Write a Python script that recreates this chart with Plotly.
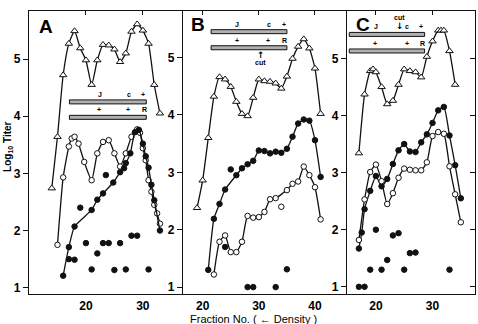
import plotly.graph_objects as go

# ---------------- data ----------------
# Panel A
A_tri_x = [14, 15, 16, 17, 18, 19, 20, 21, 22, 23, 24, 25, 26, 27, 28, 29, 30, 31, 32, 33]
A_tri_y = [2.74, 3.64, 4.72, 5.27, 5.49, 5.19, 4.98, 4.55, 4.98, 5.25, 5.24, 5.17, 4.95, 5.1, 5.48, 5.61, 5.5, 5.27, 4.55, 4.05]
A_open_x = [15, 16, 17, 17.5, 18, 18.7, 19.7, 21, 22, 23, 24, 25, 26, 27, 28, 29, 29.5, 30, 30.5, 31, 31.5, 32, 32.5, 33]
A_open_y = [1.75, 2.93, 3.47, 3.61, 3.64, 3.52, 3.2, 2.88, 3.35, 3.55, 3.58, 3.35, 3.12, 3.35, 3.64, 3.77, 3.71, 3.44, 3.23, 2.88, 2.68, 2.45, 2.3, 2.12]
A_fill_x = [16, 17, 18, 21, 22, 23, 24.8, 26, 27, 27.8, 28.6, 29.3, 30, 30.5, 31, 31.5, 32, 33]
A_fill_y = [1.21, 1.71, 2.07, 2.36, 2.54, 2.65, 2.84, 3.02, 3.18, 3.35, 3.72, 3.76, 3.52, 3.3, 3.1, 2.8, 2.53, 2.0]
A_fill_off_x = [19, 23.5, 26.7]
A_fill_off_y = [2.4, 2.97, 3.09]
A_dot_x = [17, 18, 20, 21, 22, 23, 24, 25, 26, 27, 28, 29, 31]
A_dot_y = [1.5, 1.49, 1.78, 1.32, 1.6, 1.78, 1.78, 1.31, 1.78, 1.32, 1.91, 1.91, 1.32]

# Panel B
B_tri_x = [19, 20, 21, 22, 23, 24, 25, 26, 27, 28, 29, 30, 31, 32, 33, 34, 35, 36, 37, 38, 39, 40, 41]
B_tri_y = [2.38, 2.86, 3.6, 4.32, 4.66, 4.62, 4.49, 4.23, 4.02, 3.98, 4.3, 4.62, 4.59, 4.58, 4.55, 4.46, 4.67, 4.98, 5.19, 5.32, 5.16, 4.81, 4.02]
B_fill_x = [21, 22, 23, 24, 26, 27, 28, 29, 30, 31, 32, 33, 34, 35, 36, 37, 38, 39, 40, 41]
B_fill_y = [1.3, 2.19, 2.45, 2.7, 2.95, 3.07, 3.14, 3.2, 3.38, 3.37, 3.33, 3.36, 3.34, 3.41, 3.62, 3.85, 3.92, 3.9, 3.56, 2.92]
B_fill_off_x = [25]
B_fill_off_y = [3.05]
B_open_x = [22, 23, 24, 25, 26, 27, 28, 29, 30, 31, 32, 33, 35, 36, 37, 38, 39, 40, 41]
B_open_y = [1.22, 1.79, 1.9, 1.61, 1.61, 1.79, 2.24, 2.21, 2.22, 2.31, 2.53, 2.55, 2.69, 2.8, 2.84, 3.1, 2.95, 2.74, 2.18]
B_open_off_x = [34]
B_open_off_y = [2.4]
B_dot_x = [24, 28, 29, 33, 35]
B_dot_y = [1.7, 1.0, 1.0, 1.0, 1.31]

# Panel C
C_tri_x = [17, 18, 19, 19.5, 20, 21, 22, 23, 24, 25, 26, 27, 28, 29, 30, 31, 31.5, 32, 33, 34]
C_tri_y = [3.34, 4.37, 4.78, 4.81, 4.76, 4.5, 4.2, 4.26, 4.54, 4.81, 4.78, 4.76, 4.67, 5.03, 5.3, 5.49, 5.49, 5.49, 5.13, 4.54]
C_fill_x = [17, 17.5, 18, 19, 20, 21, 22, 23, 24, 25, 26, 27, 28, 29, 30, 31, 32, 33, 34, 35]
C_fill_y = [1.67, 1.95, 2.36, 2.68, 2.94, 2.76, 2.89, 3.15, 3.39, 3.5, 3.37, 3.36, 3.53, 3.67, 3.87, 4.09, 4.15, 3.65, 3.13, 2.55]
C_open_x = [17, 18, 19, 20, 21, 22, 23, 24, 25, 26, 27, 28, 29, 30, 31, 32, 33, 34, 35]
C_open_y = [1.82, 2.53, 3.01, 3.14, 2.85, 2.45, 2.64, 2.91, 3.07, 3.05, 3.04, 3.04, 3.18, 3.64, 3.71, 3.68, 3.11, 2.62, 2.13]
C_dot_x = [17, 18, 19, 20, 21, 22, 23, 24, 25, 26, 27, 33]
C_dot_y = [1.0, 1.0, 1.3, 2.0, 1.3, 1.47, 1.9, 1.94, 1.3, 1.59, 1.6, 1.3]

x_ticks = {"A": [20, 30], "B": [20, 30, 40], "C": [20, 30]}
y_ticks = [1, 2, 3, 4, 5]

# genome-map bars: (panel, x0, x1, y, labels[(x, text)])
map_bars = [
    ("A", 17.1, 30.6, 4.25, [(22.5, "J"), (27.6, "c"), (30.05, "+")]),
    ("A", 17.1, 30.6, 3.98, [(22.3, "+"), (27.4, "+"), (30.2, "R")]),
    ("B", 21.5, 35.0, 5.45, [(26.2, "J"), (31.9, "c"), (34.5, "+")]),
    ("B", 21.5, 35.0, 5.17, [(26.1, "+"), (31.6, "+"), (34.6, "R")]),
    ("C", 15.3, 28.6, 5.42, [(19.95, "J"), (25.5, "c"), (28.05, "+")]),
    ("C", 15.3, 28.6, 5.13, [(19.8, "+"), (25.5, "+"), (28.2, "R")]),
]

axmap = {"A": ("x", "y"), "B": ("x2", "y2"), "C": ("x3", "y3")}

fig = go.Figure()
LC = "#111111"


def line_trace(xs, ys, ax, symbol, fill, size=5.5):
    xa, ya = axmap[ax]
    fig.add_trace(go.Scatter(
        x=xs, y=ys, xaxis=xa, yaxis=ya, mode="lines+markers",
        line=dict(color=LC, width=1.3, shape="spline", smoothing=0.5),
        marker=dict(symbol=symbol, size=size, color=fill, line=dict(color=LC, width=1)),
        showlegend=False, hoverinfo="skip"))


def dots(xs, ys, ax, symbol, fill, size=5.5):
    xa, ya = axmap[ax]
    fig.add_trace(go.Scatter(
        x=xs, y=ys, xaxis=xa, yaxis=ya, mode="markers",
        marker=dict(symbol=symbol, size=size, color=fill, line=dict(color=LC, width=1)),
        showlegend=False, hoverinfo="skip"))


line_trace(A_tri_x, A_tri_y, "A", "triangle-up", "white", 6.5)
line_trace(A_open_x, A_open_y, "A", "circle", "white")
line_trace(A_fill_x, A_fill_y, "A", "circle", LC)
dots(A_fill_off_x, A_fill_off_y, "A", "circle", LC)
dots(A_dot_x, A_dot_y, "A", "circle", LC)

line_trace(B_tri_x, B_tri_y, "B", "triangle-up", "white", 6.5)
line_trace(B_fill_x, B_fill_y, "B", "circle", LC)
dots(B_fill_off_x, B_fill_off_y, "B", "circle", LC)
line_trace(B_open_x, B_open_y, "B", "circle", "white")
dots(B_open_off_x, B_open_off_y, "B", "circle", "white")
dots(B_dot_x, B_dot_y, "B", "circle", LC)

line_trace(C_tri_x, C_tri_y, "C", "triangle-up", "white", 6.5)
line_trace(C_fill_x, C_fill_y, "C", "circle", LC)
line_trace(C_open_x, C_open_y, "C", "circle", "white")
dots(C_dot_x, C_dot_y, "C", "circle", LC)

shapes = []
annos = []
small = dict(size=7, color="black", family="Liberation Sans")
for panel, x0, x1, yb, labels in map_bars:
    xa, ya = axmap[panel]
    shapes.append(dict(type="rect", xref=xa, yref=ya, x0=x0, x1=x1, y0=yb - 0.035, y1=yb + 0.035,
                       line=dict(color=LC, width=1), fillcolor="#b0b0b0", layer="above"))
    for lx, t in labels:
        annos.append(dict(x=lx, y=yb + 0.035, xref=xa, yref=ya, text="<b>" + t + "</b>", showarrow=False,
                          xanchor="center", yanchor="bottom", font=small))

# cut markers
annos.append(dict(x=30.3, y=5.05, xref="x2", yref="y2", text="<b>↑</b>", showarrow=False,
                  xanchor="center", yanchor="middle",
                  font=dict(size=9, color="black", family="DejaVu Sans")))
annos.append(dict(x=30.3, y=4.92, xref="x2", yref="y2", text="<b>cut</b>", showarrow=False,
                  xanchor="center", yanchor="middle", font=small))
annos.append(dict(x=24.2, y=5.72, xref="x3", yref="y3", text="<b>cut</b>", showarrow=False,
                  xanchor="center", yanchor="middle", font=small))
annos.append(dict(x=24.2, y=5.57, xref="x3", yref="y3", text="<b>↓</b>", showarrow=False,
                  xanchor="center", yanchor="middle",
                  font=dict(size=9, color="black", family="DejaVu Sans")))

# panel letters (centres)
for t, px, py in [("A", 0.039, 0.945), ("B", 0.379, 0.951), ("C", 0.749, 0.952)]:
    annos.append(dict(x=px, y=py, xref="paper", yref="paper", text="<b>" + t + "</b>",
                      xanchor="center", yanchor="middle",
                      showarrow=False, font=dict(size=19, color="black", family="Liberation Sans")))

annos.append(dict(x=-0.047, y=0.52, xref="paper", yref="paper", text="<b>Log<sub>10</sub> Titer</b>",
                  xanchor="center", yanchor="middle",
                  textangle=-90, showarrow=False, font=dict(size=10, color="black", family="Liberation Sans")))
annos.append(dict(x=0.503, y=-0.09, xref="paper", yref="paper", text="Fraction No. ( ← Density )",
                  xanchor="center", yanchor="middle",
                  showarrow=False, font=dict(size=11, color="black", family="Liberation Sans")))

tickfont = dict(size=12, color="black", family="Liberation Sans", weight="bold")
common_x = dict(showline=True, linecolor=LC, linewidth=1.3, ticks="", ticklen=0,
                tickcolor=LC, showgrid=False, zeroline=False, tickfont=tickfont, automargin=False)
common_y = dict(showline=True, linecolor=LC, linewidth=1.3, ticks="outside", ticklen=5,
                tickcolor=LC, showgrid=False, zeroline=False, tickfont=tickfont,
                tickvals=y_ticks, domain=[0, 1], automargin=False)

dA = [0, 0.3453]
dB = [0.3453, 0.713]
dC = [0.713, 1.0]
rA = [10.0, 37.05]
rB = [16.5, 45.7]
rC = [14.9, 37.5]

fig.update_layout(
    template="none",
    width=478, height=324, margin=dict(l=29, r=3, t=11, b=30, autoexpand=False),
    paper_bgcolor="white", plot_bgcolor="white",
    xaxis=dict(common_x, domain=dA, range=rA, tickvals=x_ticks["A"], anchor="y"),
    xaxis2=dict(common_x, domain=dB, range=rB, tickvals=x_ticks["B"], anchor="y2"),
    xaxis3=dict(common_x, domain=dC, range=rC, tickvals=x_ticks["C"], anchor="y3"),
    xaxis4=dict(common_x, domain=dA, range=rA, tickvals=x_ticks["A"], side="top", overlaying="x",
                anchor="y", ticks="inside", ticklen=4, showticklabels=False),
    xaxis5=dict(common_x, domain=dB, range=rB, tickvals=x_ticks["B"], side="top", overlaying="x2",
                anchor="y2", ticks="inside", ticklen=4, showticklabels=False),
    xaxis6=dict(common_x, domain=dC, range=rC, tickvals=x_ticks["C"], side="top", overlaying="x3",
                anchor="y3", ticks="inside", ticklen=4, showticklabels=False),
    yaxis=dict(common_y, range=[0.89, 5.84], anchor="x"),
    yaxis2=dict(common_y, range=[0.88, 5.81], anchor="x2"),
    yaxis3=dict(common_y, range=[0.874, 5.83], anchor="x3"),
    yaxis4=dict(common_y, range=[0.874, 5.83], anchor="x3", overlaying="y3", side="right",
                ticks="inside", showticklabels=False),
    shapes=shapes, annotations=annos,
)

# invisible traces to activate overlay axes
for xa, ya in [("x4", "y"), ("x5", "y2"), ("x6", "y3"), ("x3", "y4")]:
    fig.add_trace(go.Scatter(x=[None], y=[None], xaxis=xa, yaxis=ya, showlegend=False, hoverinfo="skip"))

fig.write_html("out.html")
